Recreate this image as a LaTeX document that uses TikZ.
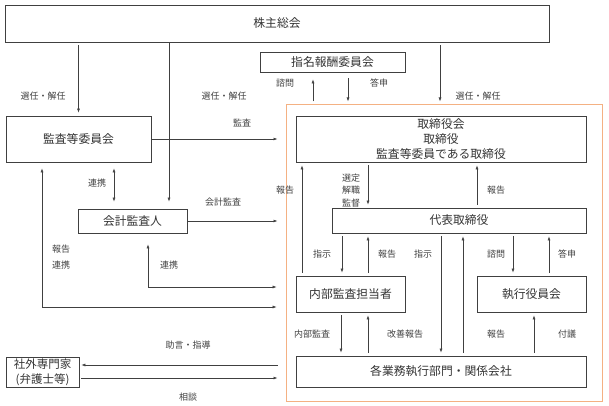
\documentclass[tikz,border=0pt]{standalone}
\usepackage{fontspec}
\setmainfont{Noto Sans CJK JP}
\usetikzlibrary{positioning,arrows.meta}

\definecolor{framecol}{RGB}{244,177,131}
\definecolor{linecol}{RGB}{64,64,64}

\begin{document}
\begin{tikzpicture} [x=1pt,y=-1pt,>={Latex[length=4pt,width=3pt]},
    box/.style={draw=linecol,line width=0.8pt,rectangle,inner sep=0pt,align=center,text=black!80,font=\fontsize{11.8}{15}\selectfont},
    lbl/.style={inner sep=0pt,align=center,text=black!75,font=\fontsize{9}{12.5}\selectfont},
    conn/.style={draw=linecol,line width=0.6pt,shorten <=3pt,shorten >=3pt}]
    \useasboundingbox (0,0) rectangle (609,406);

    % group frame around the board side
    \node[draw=framecol,line width=1pt,rectangle,inner sep=0pt,minimum width=316,minimum height=296] (group) at (444,253) {};

    \node[box,minimum width=544,minimum height=37] (soukai) at (277,23.5) {株主総会};
    \node[box,minimum width=145,minimum height=20] (nomcom) at (332.5,62) {指名報酬委員会};
    \node[box,minimum width=145,minimum height=46] (kansa) at (78.5,139) {監査等委員会};
    \node[box,minimum width=109,minimum height=24] (auditor) at (132.5,221) {会計監査人};
    \node[box,minimum width=290,minimum height=46] (board) at (441,139) {取締役会\\取締役\\監査等委員である取締役};
    \node[box,minimum width=254,minimum height=25] (ceo) at (459,220.5) {代表取締役};
    \node[box,minimum width=109,minimum height=36] (internal) at (350.5,294) {内部監査担当者};
    \node[box,minimum width=109,minimum height=36] (exec) at (531.5,294) {執行役員会};
    \node[box,minimum width=290,minimum height=31] (depts) at (441,371.5) {各業務執行部門・関係会社};
    \node[box,minimum width=73,minimum height=30,font=\fontsize{11.5}{15}\selectfont] (expert) at (42.5,372) {社外専門家\\(弁護士等)};

    \coordinate (acc) at ([xshift=36.5]auditor.north);
    \coordinate (link) at ([xshift=35.5]kansa.south);
    \coordinate (advice) at ([yshift=-6]expert.east);
    \coordinate (consult) at ([yshift=7]expert.east);

    % shareholders
    \draw[conn,->] (soukai.south -| kansa.north) -- (kansa.north);
    \draw[conn,->,shorten <=1pt,shorten >=7pt] (soukai.south -| acc) -- (acc);
    \draw[conn,->] ([xshift=-4]soukai.south -| group.north) -- ([xshift=-4]group.north);
    \draw[conn,->,shorten >=7pt] ([xshift=-19.5]nomcom.south |- group.north) -- ([xshift=-19.5]nomcom.south);
    \draw[conn,->,shorten <=6pt] ([xshift=15.5]nomcom.south) -- ([xshift=15.5]nomcom.south |- group.north);

    % audit committee and accounting auditor
    \draw[conn,->,shorten <=0pt,shorten >=8pt] (kansa.east) -- (kansa.east -| group.west);
    \draw[conn,<->,shorten <=6pt,shorten >=7pt] (link) -- (link |- auditor.north);
    \draw[conn,->,shorten <=0pt,shorten >=8pt] (auditor.east) -- (auditor.east -| group.west);
    \draw[conn,<->,shorten <=6pt,shorten >=19pt] ([xshift=-36.5]kansa.south) |- ([yshift=-13]internal.west);
    \draw[conn,<->,shorten <=11pt,shorten >=19pt] ([xshift=15.5]auditor.south) |- ([yshift=7]internal.west);

    % board and representative director
    \draw[conn,->] ([xshift=-73]board.south) -- ([xshift=-91]ceo.north);
    \draw[conn,->] ([xshift=18]ceo.north) -- ([xshift=36]board.south);
    \draw[conn,->] ([xshift=-48.5]internal.north) -- ([xshift=-139]board.south);

    % representative director downwards
    \draw[conn,->] ([xshift=-117]ceo.south) -- ([xshift=-8.5]internal.north);
    \draw[conn,->] ([xshift=17.5]internal.north) -- ([xshift=-91]ceo.south);
    \draw[conn,->] ([xshift=-18]ceo.south) -- (depts.north);
    \draw[conn,->] ([xshift=22]depts.north) -- ([xshift=4]ceo.south);
    \draw[conn,->] ([xshift=54]ceo.south) -- ([xshift=-18.5]exec.north);
    \draw[conn,->] ([xshift=17.5]exec.north) -- ([xshift=90]ceo.south);

    % departments
    \draw[conn,->] ([xshift=-9.5]internal.south) -- ([xshift=-100]depts.north);
    \draw[conn,->] ([xshift=-73]depts.north) -- ([xshift=17.5]internal.south);
    \draw[conn,->] ([xshift=93]depts.north) -- ([xshift=2.5]exec.south);

    % outside experts
    \draw[conn,->,shorten <=2pt,shorten >=8pt] (advice) -- (advice -| group.west);
    \draw[conn,->,shorten <=8pt,shorten >=2pt] (consult -| group.west) -- (consult);

    % labels
    \node[lbl] (elect1) at (43,96) {選任・解任};
    \node[lbl] (elect2) at (224,96) {選任・解任};
    \node[lbl] (elect3) at (478,96) {選任・解任};
    \node[lbl] (inquire1) at (285,83) {諮問};
    \node[lbl] (answer1) at (379,83) {答申};
    \node[lbl] (audit1) at (242,123) {監査};
    \node[lbl] (coop1) at (97,183) {連携};
    \node[lbl] (accaudit) at (223,202) {会計監査};
    \node[lbl,font=\fontsize{9}{16}\selectfont] (coop2) at (61,257) {報告\\連携};
    \node[lbl] (coop3) at (169,265) {連携};
    \node[lbl] (report1) at (285,190) {報告};
    \node[lbl] (appoint) at (351,190.5) {選定\\解職\\監督};
    \node[lbl] (report2) at (496,190) {報告};
    \node[lbl] (order1) at (322,254) {指示};
    \node[lbl] (report3) at (387,254) {報告};
    \node[lbl] (order2) at (423,254) {指示};
    \node[lbl] (inquire2) at (496,254) {諮問};
    \node[lbl] (answer2) at (567,254) {答申};
    \node[lbl] (audit2) at (312,334) {内部監査};
    \node[lbl] (improve) at (405,334) {改善報告};
    \node[lbl] (report4) at (496,334) {報告};
    \node[lbl] (submit) at (567,334) {付議};
    \node[lbl] (guide) at (188,345) {助言・指導};
    \node[lbl] (consulttext) at (188,397) {相談};
\end{tikzpicture}
\end{document}
